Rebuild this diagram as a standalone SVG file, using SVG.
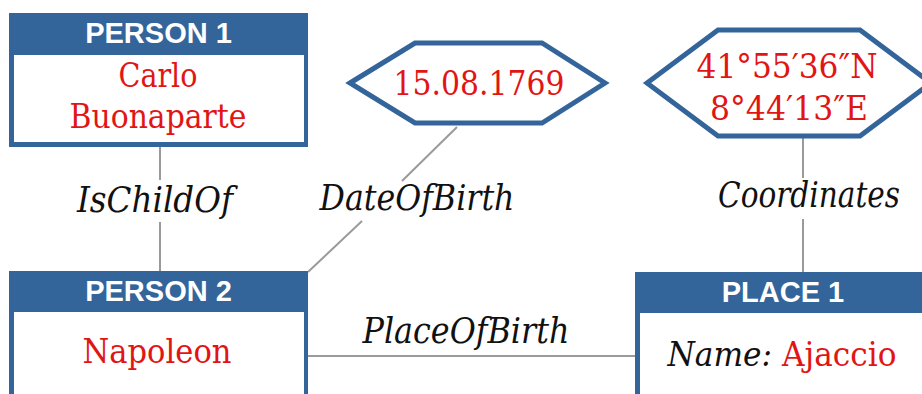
<svg xmlns="http://www.w3.org/2000/svg" width="922" height="394" viewBox="0 0 922 394">
  <style>
    .frame { fill: #33659b; }
    .body { fill: #ffffff; }
    .hdr { font-family: "Liberation Sans", Arial, sans-serif; font-weight: bold; font-size: 29px; fill: #ffffff; text-anchor: middle; }
    .val { font-family: "DejaVu Serif", "Liberation Serif", serif; font-size: 34px; fill: #e21515; text-anchor: middle; }
    .lbl { font-family: "DejaVu Serif", "Liberation Serif", serif; font-style: italic; font-size: 35px; fill: #111111; text-anchor: middle; }
    .hex { fill: #ffffff; stroke: #33659b; stroke-width: 5; stroke-linejoin: miter; }
    .edge { stroke: #9a9a9a; stroke-width: 2; fill: none; }
  </style>
  <rect width="922" height="394" fill="#ffffff"/>

  <!-- relations -->
  <g id="connectors">
    <line class="edge" x1="160" y1="147" x2="160" y2="180"/>
    <line class="edge" x1="160" y1="222" x2="160" y2="271"/>
    <line class="edge" x1="457" y1="127" x2="402" y2="181"/>
    <line class="edge" x1="362" y1="221" x2="308" y2="272"/>
    <line class="edge" x1="803" y1="137" x2="803" y2="178"/>
    <line class="edge" x1="803" y1="219" x2="803" y2="272"/>
    <line class="edge" x1="306" y1="356" x2="637" y2="356"/>
    <text class="lbl" x="155" y="212" textLength="156" lengthAdjust="spacingAndGlyphs">IsChildOf</text>
    <text class="lbl" x="417" y="210" textLength="195" lengthAdjust="spacingAndGlyphs">DateOfBirth</text>
    <text class="lbl" x="809" y="207" textLength="182" lengthAdjust="spacingAndGlyphs">Coordinates</text>
    <text class="lbl" x="466" y="343" textLength="207" lengthAdjust="spacingAndGlyphs">PlaceOfBirth</text>
  </g>

  <g id="person1">
    <rect class="frame" x="9" y="13" width="299" height="134"/>
    <rect class="body" x="14" y="55" width="290" height="87"/>
    <text class="hdr" x="158.5" y="43">PERSON 1</text>
    <text class="val" x="158" y="87" textLength="79" lengthAdjust="spacingAndGlyphs">Carlo</text>
    <text class="val" x="158" y="128" textLength="177" lengthAdjust="spacingAndGlyphs">Buonaparte</text>
  </g>

  <g id="date">
    <polygon class="hex" points="350,83 415,43 542,43 605,83 542,123 415,123"/>
    <text class="val" x="479" y="95" textLength="171" lengthAdjust="spacingAndGlyphs">15.08.1769</text>
  </g>

  <g id="coords">
    <polygon class="hex" points="647,83 718,30 860,30 931,83 860,136 718,136"/>
    <text class="val" x="787" y="78" textLength="181" lengthAdjust="spacingAndGlyphs">41°55′36″N</text>
    <text class="val" x="789" y="120" textLength="158" lengthAdjust="spacingAndGlyphs">8°44′13″E</text>
  </g>

  <g id="person2">
    <rect class="frame" x="9" y="271" width="299" height="140"/>
    <rect class="body" x="14" y="312" width="290" height="99"/>
    <text class="hdr" x="158.5" y="301">PERSON 2</text>
    <text class="val" x="157" y="363" textLength="149" lengthAdjust="spacingAndGlyphs">Napoleon</text>
  </g>

  <g id="place1">
    <rect class="frame" x="635" y="272" width="296" height="140"/>
    <rect class="body" x="640" y="313" width="287" height="99"/>
    <text class="hdr" x="783" y="302">PLACE 1</text>
    <text class="val" x="782" y="366" textLength="229" lengthAdjust="spacingAndGlyphs"><tspan fill="#111111" font-style="italic">Name:</tspan> Ajaccio</text>
  </g>
</svg>
